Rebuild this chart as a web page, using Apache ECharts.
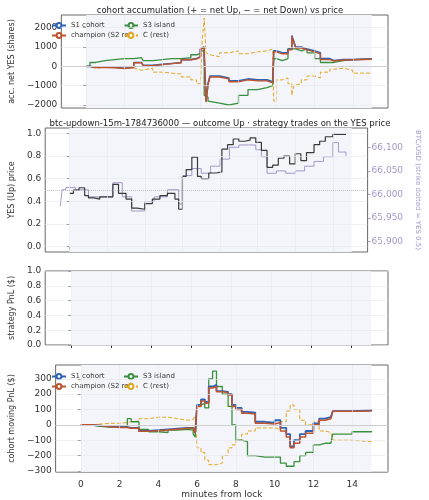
<!DOCTYPE html>
<html><head><meta charset="utf-8">
<script src="https://cdn.jsdelivr.net/npm/echarts@6/dist/echarts.min.js"></script>
<style>html,body{margin:0;background:#fff}#c{width:429px;height:500px}</style>
</head><body><div id="c"></div>
<script>
// panel 1: accumulated net YES shares
var tA = [0,0.2,0.5,1,1.5,2,2.5,2.9,3,3.5,4,4.5,5,5.5,5.8,6,6.1,6.2,6.3,6.4,6.5,7,7.5,8,8.5,9,9.5,9.8,9.85,10,10.3,10.6,10.8,10.9,11,11.3,11.6,12,12.3,12.8,13,13.5,14,15];
var accS1 = [0,-50,-50,-50,-100,-50,200,250,50,100,150,200,350,400,500,900,1000,700,-1800,-900,-500,-600,-750,-650,-700,-700,-800,-750,800,700,700,900,1600,1300,1000,900,800,700,400,300,350,350,380,380];
var accChamp = [0,-60,-60,-70,-110,-60,190,240,40,90,140,190,340,390,480,880,980,650,-1850,-950,-550,-650,-800,-700,-750,-750,-850,-800,750,650,650,850,1550,1250,950,850,750,650,350,280,330,340,370,370];
var accS3 = [0,200,300,350,400,400,450,550,300,350,400,400,450,600,650,800,800,-1500,-1600,-1800,-1900,-2000,-1900,-1500,-1200,-1100,-1000,-900,400,300,400,900,1000,900,800,900,700,400,200,200,300,350,400,400];
var accC = [0,-100,-50,-50,0,-100,-200,-250,-100,-300,-350,-400,-550,-700,-900,-1000,1400,2500,700,600,500,700,800,650,750,800,900,850,-1800,-700,-600,-900,-1500,-1000,-900,-700,-500,-600,-300,-150,-100,-200,-350,-380];

// panel 2: YES price and BTC
var tP = [0,0.2,0.5,0.8,1,1.3,1.6,2,2.3,2.6,3,3.3,3.6,4,4.4,4.8,5.2,5.6,5.8,6,6.2,6.5,6.8,7,7.4,7.8,8.1,8.4,8.7,9,9.3,9.6,9.9,10.2,10.5,10.8,11.1,11.4,11.7,12,12.3,12.6,13,13.3,13.6,14,14.4,14.7];
var yesPrice = [0.47,0.5,0.52,0.45,0.43,0.42,0.44,0.44,0.55,0.47,0.42,0.34,0.33,0.38,0.42,0.45,0.47,0.42,0.33,0.62,0.68,0.79,0.62,0.6,0.65,0.66,0.86,0.9,0.95,0.93,0.94,0.96,0.92,0.85,0.7,0.72,0.78,0.8,0.73,0.82,0.76,0.83,0.9,0.93,0.97,0.99,0.99,0.99];
var tB = [-0.5,-0.4,-0.2,0.3,1,1.6,2.3,2.8,3.3,4,4.5,5.2,5.8,6,6.5,7,7.5,8,8.5,9,9.5,9.9,10.2,10.5,11,11.5,12,12.5,13,13.5,14,14.3,14.7];
var btcUsd = [65975,66010,66015,66010,65995,65995,66025,65995,65965,65985,65995,66010,65980,66040,66055,66045,66060,66075,66100,66105,66105,66095,66080,66045,66050,66045,66050,66060,66070,66080,66110,66090,66082];

// panel 4: moving PnL
var tQ = [0,0.5,1,1.5,2,2.4,2.6,3,3.5,4,4.5,5,5.5,5.8,5.9,6,6.2,6.4,6.6,6.8,7,7.3,7.6,7.8,8,8.3,8.6,9,9.5,10,10.3,10.6,10.8,11,11.3,11.6,12,12.3,12.6,12.9,13,14,15];
var pnlS1 = [0,-5,-10,-15,-15,-20,-20,-40,-35,-30,-25,-20,-20,-30,-50,130,165,150,250,260,220,215,200,130,110,85,80,20,15,30,-20,-60,-140,-100,-60,-40,10,40,50,60,90,95,100];
var pnlChamp = [0,-5,-12,-17,-18,-22,-22,-42,-38,-33,-28,-23,-23,-33,-55,120,155,140,240,250,215,210,195,120,100,75,70,10,5,15,-40,-80,-150,-120,-80,-55,0,30,40,50,88,90,92];
var pnlS3 = [0,-10,-15,-10,-10,40,20,-30,-45,-50,-35,-30,-35,-60,-80,130,140,110,300,350,250,200,120,0,-100,-110,-200,-210,-210,-210,-250,-270,-270,-240,-200,-180,-130,-120,-120,-110,-60,-45,-40];
var pnlC = [0,5,10,10,15,20,25,40,50,50,40,30,35,40,60,-150,-180,-230,-260,-260,-250,-200,-150,-130,-100,-60,-40,-20,-20,-30,20,90,130,100,30,0,20,-40,-50,-60,-100,-110,-120];

var xTicks = [0,2,4,6,8,10,12,14];
var accTicks = [-2000,-1000,0,1000,2000];
var yesTicks = [0,0.2,0.4,0.6,0.8,1.0];
var btcTicks = [65900,65950,66000,66050,66100];
var strTicks = [0,0.2,0.4,0.6,0.8,1.0];
var pnlTicks = [-300,-200,-100,0,100,200,300];

function zip(t, v) { return t.map(function (x, i) { return [x, v[i]]; }); }
function fmtMinus(v) { return String(v).replace('-', '\u2212'); }

var C_S1 = '#2e62b5', C_CH = '#c0522c', C_S3 = '#3b903f', C_C = '#e3a81f', PURP = '#a597c9';
var font = 'DejaVu Sans';
var tops = [15, 128, 271, 365], heights = [93, 124, 74, 108];

var grids = [], xAxes = [], yAxes = [], series = [];
for (var g = 0; g < 4; g++) {
    grids.push({left: 42, right: 41, top: tops[g], height: heights[g], show: true,
        borderColor: '#666', borderWidth: 1, backgroundColor: '#fff'});
    xAxes.push({type: 'value', gridIndex: g, min: -1.3, max: 15.85,
        axisLine: {show: false}, splitLine: {show: false},
        axisTick: {show: true, customValues: xTicks, length: 3, lineStyle: {color: '#333'}},
        axisLabel: {show: g == 3, customValues: xTicks, color: '#333', fontSize: 9, fontFamily: font},
        name: g == 3 ? 'minutes from lock' : '', nameLocation: 'middle', nameGap: 16,
        nameTextStyle: {fontSize: 9, color: '#333', fontFamily: font}});
}
var yDefs = [
    {min: -2155, max: 2657, ticks: accTicks, name: 'acc. net YES (shares)', f: function (v) { return fmtMinus(v); }},
    {min: -0.047, max: 1.047, ticks: yesTicks, name: 'YES (Up) price', f: function (v) { return v.toFixed(1); }},
    {min: 0, max: 1, ticks: strTicks, name: 'strategy PnL ($)', f: function (v) { return v.toFixed(1); }},
    {min: -308, max: 390, ticks: pnlTicks, name: 'cohort moving PnL ($)', f: function (v) { return fmtMinus(v); }}
];
yDefs.forEach(function (d, g) {
    yAxes.push({type: 'value', gridIndex: g, min: d.min, max: d.max,
        axisLine: {show: false}, splitLine: {show: false},
        axisTick: {show: true, customValues: d.ticks, length: 3, lineStyle: {color: '#333'}},
        axisLabel: {customValues: d.ticks, formatter: d.f, color: '#333', fontSize: 9, fontFamily: font, margin: 4},
        name: d.name, nameLocation: 'middle', nameGap: g == 1 || g == 2 ? 24 : 32,
        nameTextStyle: {fontSize: 8, color: '#333', fontFamily: font}});
});
// right axis on price panel
yAxes.push({type: 'value', gridIndex: 1, position: 'right', min: 65878, max: 66141,
    axisLine: {show: false}, splitLine: {show: false},
    axisTick: {show: true, customValues: btcTicks, length: 3, lineStyle: {color: PURP}},
    axisLabel: {customValues: btcTicks, color: PURP, fontSize: 9, fontFamily: font, margin: 4},
    name: 'BTC/USD (strike dotted = YES 0.5)', nameLocation: 'middle', nameGap: 34, nameRotate: -90,
    nameTextStyle: {fontSize: 7, color: PURP, fontFamily: font}});

// background band + faint grid lines per panel
for (var g = 0; g < 4; g++) {
    var d = yDefs[g];
    var lines = xTicks.map(function (x) { return {xAxis: x}; })
        .concat(d.ticks.map(function (y) { return {yAxis: y}; }));
    series.push({type: 'line', xAxisIndex: g, yAxisIndex: g, data: [], silent: true, z: 0,
        markArea: {silent: true, itemStyle: {color: '#f3f5fa'},
            data: [[{xAxis: 0, yAxis: d.min}, {xAxis: 15, yAxis: d.max}]]},
        markLine: {silent: true, symbol: 'none', label: {show: false},
            lineStyle: {color: '#e6e8ee', width: 0.6, type: 'solid'}, data: lines}});
}

function step(name, g, t, v, color, w, dashed, yi) {
    return {name: name, type: 'line', step: 'end', xAxisIndex: g, yAxisIndex: yi == null ? g : yi,
        data: zip(t, v), showSymbol: false, silent: true, z: 3,
        lineStyle: {color: color, width: w, type: dashed ? [4, 2] : 'solid'}, itemStyle: {color: color}};
}
var zeroLine = {silent: true, symbol: 'none', label: {show: false},
    lineStyle: {color: '#cfcfcf', width: 1, type: 'solid'}, data: [{yAxis: 0}]};

series.push(Object.assign(step('C (rest)', 0, tA, accC, C_C, 1, true), {markLine: zeroLine}));
series.push(step('S3 island', 0, tA, accS3, C_S3, 1.3));
series.push(step('S1 cohort', 0, tA, accS1, C_S1, 1.6));
series.push(step('champion (S2 ref)', 0, tA, accChamp, C_CH, 1.4));

series.push({type: 'line', xAxisIndex: 1, yAxisIndex: 4, data: zip(tB, btcUsd), step: 'end',
    showSymbol: false, silent: true, lineStyle: {color: PURP, width: 1}, z: 2});
series.push({type: 'line', xAxisIndex: 1, yAxisIndex: 1, data: zip(tP, yesPrice), step: 'end',
    showSymbol: false, silent: true, lineStyle: {color: '#3a3a3a', width: 1.2}, z: 3,
    markLine: {silent: true, symbol: 'none', label: {show: false},
        lineStyle: {color: '#bbb', width: 1, type: 'dotted'}, data: [{yAxis: 0.5}]}});

series.push(Object.assign(step('C (rest)', 3, tQ, pnlC, C_C, 1, true), {markLine: zeroLine}));
series.push(step('S3 island', 3, tQ, pnlS3, C_S3, 1.3));
series.push(step('S1 cohort', 3, tQ, pnlS1, C_S1, 1.8));
series.push(step('champion (S2 ref)', 3, tQ, pnlChamp, C_CH, 1.5));

function legend(left, top, names) {
    return {left: left, top: top, orient: 'vertical', itemWidth: 14, itemHeight: 6, itemGap: 3,
        data: names, textStyle: {fontSize: 7, color: '#333', fontFamily: font}, selectedMode: false};
}

var chart = echarts.init(document.getElementById('c'));
chart.setOption({
    animation: false,
    textStyle: {fontFamily: font},
    title: [
        {text: 'cohort accumulation (+ = net Up, \u2212 = net Down) vs price', left: 215, top: 1, textAlign: 'center',
            textStyle: {fontSize: 8.5, fontWeight: 'normal', color: '#222', fontFamily: font}},
        {text: 'btc-updown-15m-1784736000 \u2014 outcome Up \u00b7 strategy trades on the YES price', left: 215, top: 114,
            textAlign: 'center', textStyle: {fontSize: 8.5, fontWeight: 'normal', color: '#222', fontFamily: font}}
    ],
    legend: [legend(46, 17, ['S1 cohort', 'champion (S2 ref)']), legend(118, 17, ['S3 island', 'C (rest)']),
        legend(46, 368, ['S1 cohort', 'champion (S2 ref)']), legend(118, 368, ['S3 island', 'C (rest)'])],
    graphic: [{type: 'text', left: 163, top: 304,
        style: {text: 'no strategy trades this window', fontSize: 8, fill: '#999', fontFamily: font}}],
    grid: grids, xAxis: xAxes, yAxis: yAxes, series: series
});
</script>
</body></html>
